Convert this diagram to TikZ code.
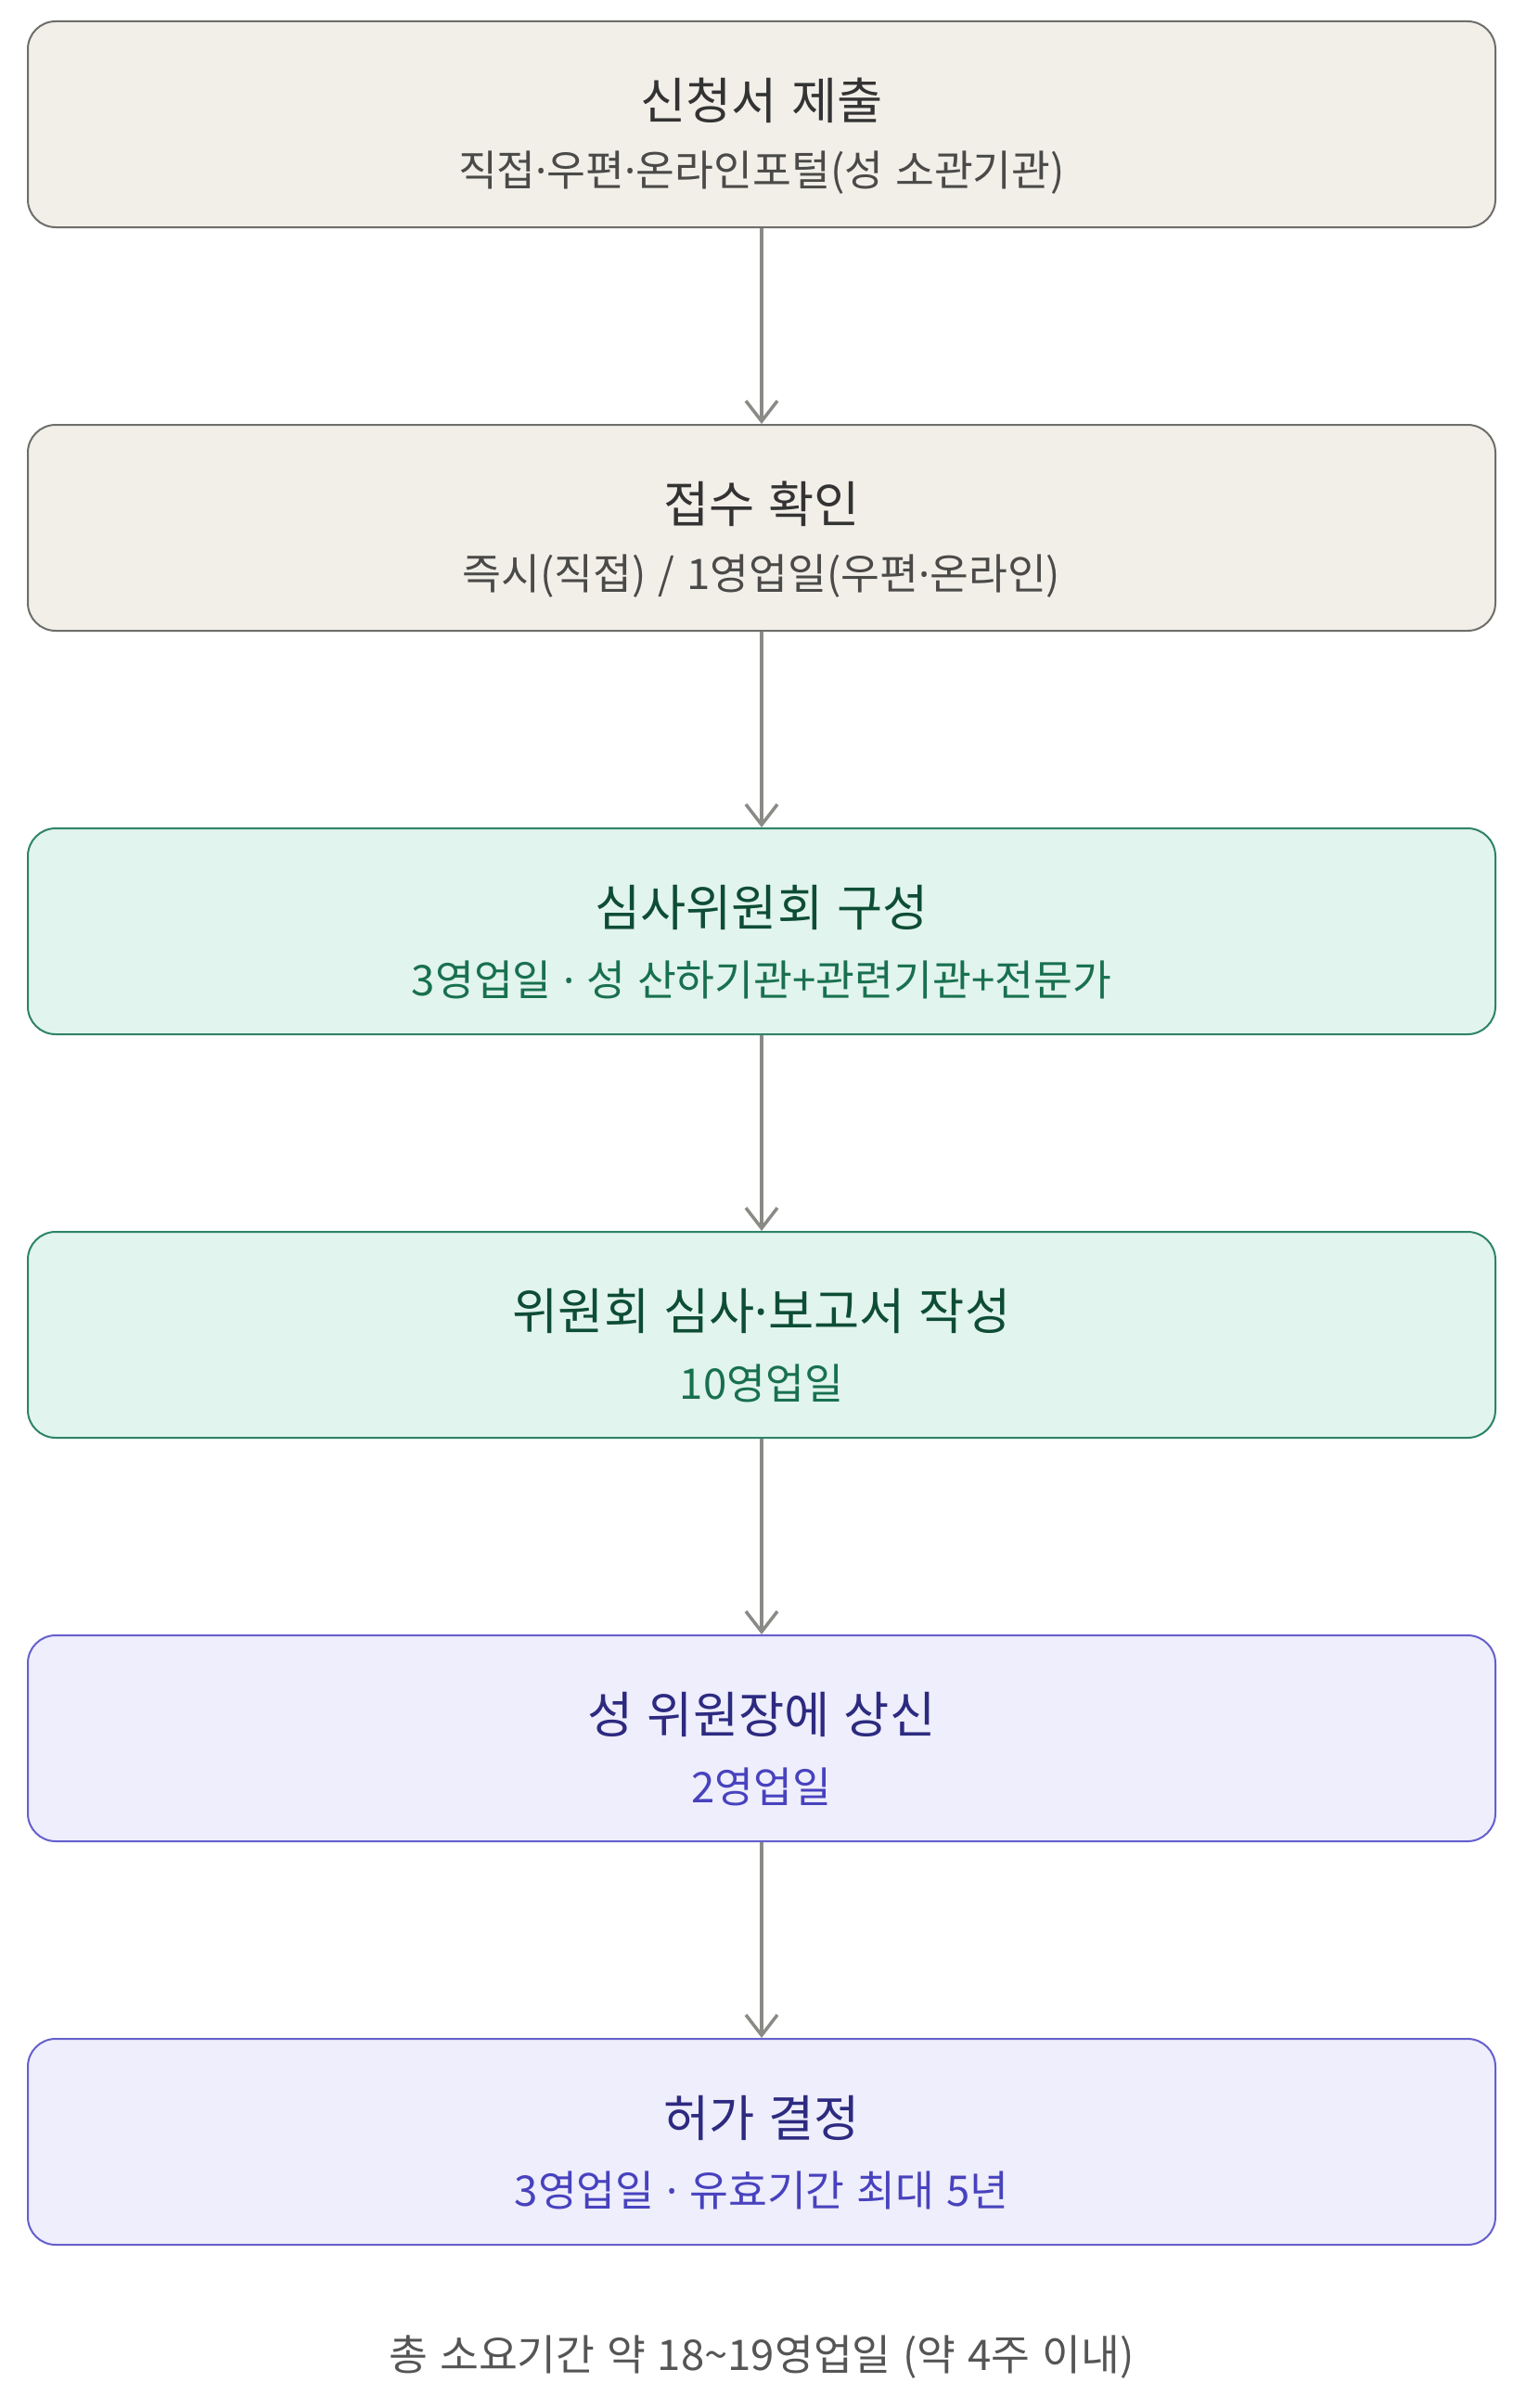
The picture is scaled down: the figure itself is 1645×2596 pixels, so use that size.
\documentclass[tikz,border=0pt]{standalone}
\usepackage{fontspec}
\setmainfont{Noto Sans CJK KR}[WordSpace=1.25]
\newfontfamily\dotfont{Noto Sans}
\newcommand{\md}{{\dotfont ·}}
\usetikzlibrary{arrows.meta}
\definecolor{nfill}{HTML}{F2EFE9}
\definecolor{ndraw}{HTML}{6E6E6A}
\definecolor{ntitle}{HTML}{333333}
\definecolor{nsub}{HTML}{4A4A48}
\definecolor{gfill}{HTML}{E1F4EE}
\definecolor{gdraw}{HTML}{2E8468}
\definecolor{gtitle}{HTML}{0E4D35}
\definecolor{gsub}{HTML}{18704F}
\definecolor{pfill}{HTML}{EEEEFC}
\definecolor{pdraw}{HTML}{6660CC}
\definecolor{ptitle}{HTML}{2D2A80}
\definecolor{psub}{HTML}{4842BE}
\definecolor{arr}{HTML}{8A8A86}
\definecolor{foot}{HTML}{555555}
\tikzset{
  stagebox/.style={rectangle, rounded corners=30pt, line width=2pt, minimum width=1582pt, minimum height=222pt, inner sep=0pt},
  neutral/.style={stagebox, fill=nfill, draw=ndraw},
  green/.style={stagebox, fill=gfill, draw=gdraw},
  purple/.style={stagebox, fill=pfill, draw=pdraw},
  titletext/.style={inner sep=0pt, font=\fontsize{53.5}{60}\selectfont},
  subtext/.style={inner sep=0pt, font=\fontsize{45.5}{52}\selectfont},
  flow/.style={draw=arr, line width=3.5pt, -{Straight Barb[length=22pt, width=34pt, line width=3.5pt]}},
}
\begin{document}
\begin{tikzpicture}[x=1pt, y=-1pt]
\useasboundingbox (0,0) rectangle (1645,2596);
\fill[white] (0,0) rectangle (1645,2596);

\node[neutral] (b1) at (821,134) {};
\node[titletext, text=ntitle] (t1) at (821,108) {신청서 제출};
\node[subtext, text=nsub] (s1) at (821,186) {직접\md 우편\md 온라인포털(성 소관기관)};

\node[neutral] (b2) at (821,569) {};
\node[titletext, text=ntitle] (t2) at (821,543) {접수 확인};
\node[subtext, text=nsub] (s2) at (821,621) {즉시(직접) / 1영업일(우편\md 온라인)};

\node[green] (b3) at (821,1004) {};
\node[titletext, text=gtitle] (t3) at (821,978) {심사위원회 구성};
\node[subtext, text=gsub] (s3) at (821,1056) {3영업일 \md{} 성 산하기관+관련기관+전문가};

\node[green] (b4) at (821,1439) {};
\node[titletext, text=gtitle] (t4) at (821,1413) {위원회 심사\md 보고서 작성};
\node[subtext, text=gsub] (s4) at (821,1491) {10영업일};

\node[purple] (b5) at (821,1874) {};
\node[titletext, text=ptitle] (t5) at (821,1848) {성 위원장에 상신};
\node[subtext, text=psub] (s5) at (821,1926) {2영업일};

\node[purple] (b6) at (821,2309) {};
\node[titletext, text=ptitle] (t6) at (821,2283) {허가 결정};
\node[subtext, text=psub] (s6) at (821,2361) {3영업일 \md{} 유효기간 최대 5년};

\node[subtext, text=foot] (ft) at (821,2541) {총 소요기간 약 18\textasciitilde 19영업일 (약 4주 이내)};

\draw[flow] (b1.south) -- (b2.north);
\draw[flow] (b2.south) -- (b3.north);
\draw[flow] (b3.south) -- (b4.north);
\draw[flow] (b4.south) -- (b5.north);
\draw[flow] (b5.south) -- (b6.north);
\end{tikzpicture}
\end{document}
